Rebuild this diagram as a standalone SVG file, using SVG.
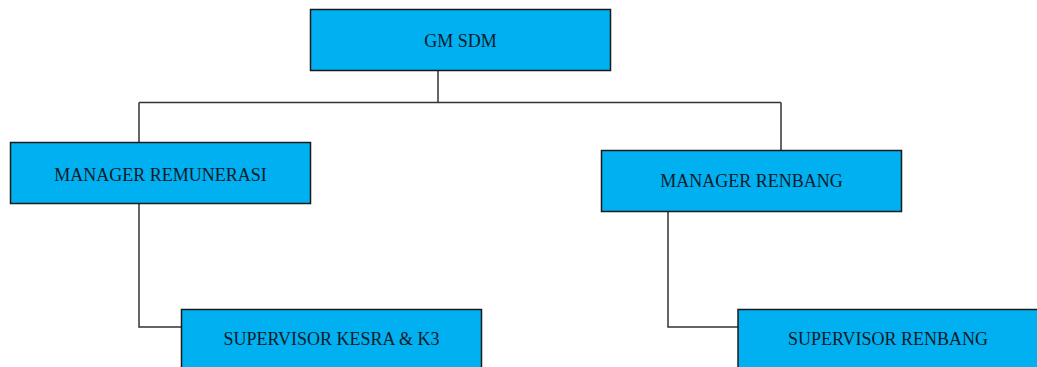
<svg xmlns="http://www.w3.org/2000/svg" width="1037" height="367" viewBox="0 0 1037 367">
  <style>
    .box { fill: #00b0f0; stroke: #1a1a1a; stroke-width: 1.5; }
    .lbl { font-family: "Liberation Serif", "Times New Roman", serif; font-size: 18px; fill: #0d1b2a; text-anchor: middle; }
    .wire { fill: none; stroke: #333333; stroke-width: 1.5; }
  </style>
  <rect width="1037" height="367" fill="#ffffff"/>

  <!-- connectors -->
  <g id="connectors">
    <path class="wire" d="M438,70.5 V102.5 M139,102.5 H781 M139,102.5 V142.5 M781,102.5 V150.5"/>
    <path class="wire" d="M139,203.5 V327 H181.5"/>
    <path class="wire" d="M668,211.5 V327 H738"/>
  </g>

  <g id="gm-sdm">
    <rect class="box" x="310.5" y="9.5" width="300" height="61"/>
    <text class="lbl" x="460.5" y="46.5">GM SDM</text>
  </g>

  <g id="manager-remunerasi">
    <rect class="box" x="10.5" y="142.5" width="300" height="61"/>
    <text class="lbl" x="160.5" y="180.5">MANAGER REMUNERASI</text>
  </g>

  <g id="manager-renbang">
    <rect class="box" x="601.5" y="150.5" width="300" height="61"/>
    <text class="lbl" x="751.5" y="187">MANAGER RENBANG</text>
  </g>

  <g id="supervisor-kesra-k3">
    <rect class="box" x="181.5" y="309.5" width="300" height="70"/>
    <text class="lbl" x="331.5" y="345">SUPERVISOR KESRA &amp; K3</text>
  </g>

  <g id="supervisor-renbang">
    <rect class="box" x="738" y="309.5" width="300" height="70"/>
    <text class="lbl" x="888" y="345">SUPERVISOR RENBANG</text>
  </g>
</svg>
